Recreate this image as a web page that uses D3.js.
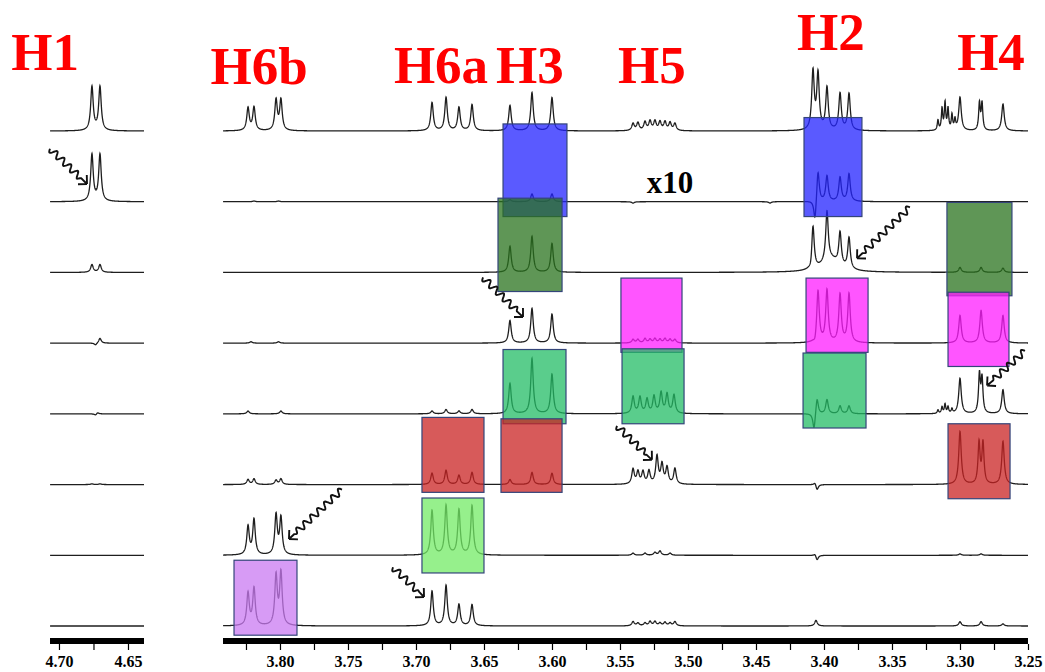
<!DOCTYPE html>
<html>
<head>
<meta charset="utf-8">
<script src="https://cdn.jsdelivr.net/npm/d3@7"></script>
<style>
  body { margin: 0; background: #fff; }
  svg { display: block; }
</style>
</head>
<body>
<svg id="chart" width="1045" height="672"></svg>
<script>
// chemical shift windows of the two panels (ppm)
const leftDomain = [4.7065, 4.6384];
const rightDomain = [3.8419, 3.25];
const traceIds = [0, 1, 2, 3, 4, 5, 6, 7];

// peaks per trace: [ppm, intensity in % of trace spacing, optional half width]
const trace0 = [
  [4.6761, 62], [4.6703, 62],
  [3.8235, 32], [3.8191, 33], [3.8029, 43], [3.7993, 43],
  [3.6882, 40], [3.6779, 47], [3.6684, 33], [3.6588, 37],
  [3.6309, 36], [3.6147, 54], [3.6000, 47],
  [3.5404, 10], [3.5368, 11], [3.5316, 12], [3.5279, 13], [3.5243, 13],
  [3.5206, 12], [3.5169, 12], [3.5132, 11], [3.5096, 10],
  [3.4081, 82], [3.4044, 78], [3.3978, 60], [3.3882, 52], [3.3816, 52],
  [3.3162, 14, 0.0006], [3.3132, 30, 0.0006], [3.3110, 38, 0.0006], [3.3088, 30, 0.0006],
  [3.3059, 21, 0.0006], [3.3037, 14, 0.0006],
  [3.3000, 47], [3.2857, 38, 0.0007], [3.2838, 38, 0.0007], [3.2684, 38]
];
const trace1 = [
  [4.6761, 66], [4.6703, 66],
  [3.8191, 1], [3.8011, 1],
  [3.6309, 3], [3.6147, 11], [3.6000, 11],
  [3.5404, -2], [3.4397, -2],
  [3.4066, -31], [3.4044, 46], [3.3978, 36], [3.3882, 34], [3.3816, 39]
];
const trace2 = [
  [4.6761, 11], [4.6703, 11],
  [3.6309, 37], [3.6147, 51], [3.6000, 41],
  [3.4096, -7], [3.4081, 62], [3.3978, 70], [3.3882, 46], [3.3816, 44], [3.3950, 18, 0.008],
  [3.3000, 7], [3.2845, 7], [3.2684, 6]
];
const trace3 = [
  [4.6735, -3], [4.6703, 7],
  [3.8213, 2], [3.8011, 2],
  [3.6309, 32], [3.6147, 49], [3.6000, 41],
  [3.5404, 5], [3.5368, 5], [3.5316, 6], [3.5279, 5], [3.5243, 6],
  [3.5206, 5], [3.5169, 6], [3.5132, 5], [3.5096, 5],
  [3.4066, -7], [3.4044, 74], [3.3978, 74], [3.3882, 68], [3.3816, 69],
  [3.3000, 39], [3.2845, 46], [3.2684, 39]
];
const trace4 = [
  [4.6735, -2], [4.6720, 2],
  [3.8235, 4], [3.7993, 4],
  [3.6882, 4], [3.6779, 6], [3.6684, 4], [3.6588, 6],
  [3.6309, 43], [3.6147, 78], [3.6000, 56],
  [3.5404, 24], [3.5353, 23], [3.5301, 20], [3.5250, 24],
  [3.5198, 29], [3.5154, 27], [3.5103, 26],
  [3.4073, -24], [3.4051, 24], [3.3978, 20], [3.3882, 11], [3.3816, 11],
  [3.3162, 5, 0.0006], [3.3132, 9, 0.0006], [3.3110, 13, 0.0006], [3.3088, 9, 0.0006], [3.3059, 6, 0.0006],
  [3.3000, 50], [3.2857, 54, 0.0008], [3.2838, 48, 0.0008], [3.2684, 34]
];
const trace5 = [
  [4.6761, 1], [4.6703, 1],
  [3.8235, 7], [3.8191, 8], [3.8029, 6], [3.7993, 8],
  [3.6882, 16], [3.6779, 20], [3.6684, 13], [3.6588, 17],
  [3.6309, 7], [3.6147, 17], [3.6000, 16],
  [3.5404, 21], [3.5368, 17], [3.5331, 17], [3.5287, 18],
  [3.5228, 39], [3.5191, 27], [3.5154, 23], [3.5096, 22],
  [3.4066, 4], [3.4051, -8],
  [3.3000, 75], [3.2860, 58, 0.0009], [3.2831, 58, 0.0009], [3.2684, 61]
];
const trace6 = [
  [3.8235, 40], [3.8191, 50], [3.8029, 56], [3.7993, 52],
  [3.6882, 63], [3.6779, 70], [3.6684, 64], [3.6588, 70],
  [3.5404, 3], [3.5316, 3], [3.5243, 4], [3.5206, 6], [3.5132, 3],
  [3.4066, 3], [3.4051, -7],
  [3.3000, 2], [3.2845, 2]
];
const trace7 = [
  [3.8235, 46], [3.8191, 53], [3.8029, 70], [3.7993, 74],
  [3.6882, 49], [3.6779, 57], [3.6684, 30], [3.6588, 30],
  [3.5404, 6], [3.5368, 4], [3.5316, 4], [3.5279, 6], [3.5243, 6],
  [3.5206, 4], [3.5169, 5], [3.5132, 4], [3.5096, 6],
  [3.4059, 8],
  [3.3000, 6], [3.2845, 6], [3.2684, 3]
];
const tracePeaks = [trace0, trace1, trace2, trace3, trace4, trace5, trace6, trace7];

// assignment labels
const labelNames = ['H1', 'H6b', 'H6a', 'H3', 'H5', 'H2', 'H4'];
const labelShifts = [4.7101, 3.8154, 3.6816, 3.6162, 3.5265, 3.3949, 3.2772];
const labelPanels = ['left', 'right', 'right', 'right', 'right', 'right', 'right'];

// highlighted regions: trace, ppm from, ppm to, top / bottom (% of spacing), colour
const boxTraces = [1, 1, 2, 2, 3, 3, 3, 4, 4, 4, 5, 5, 5, 6, 7];
const boxFrom = [3.6360, 3.4147, 3.6397, 3.3096, 3.5493, 3.4132, 3.3088, 3.6360, 3.5485, 3.4154, 3.6956, 3.6375, 3.3088, 3.6956, 3.8338];
const boxTo = [3.5890, 3.3721, 3.5926, 3.2618, 3.5044, 3.3676, 3.2640, 3.5897, 3.5029, 3.3691, 3.6500, 3.5926, 3.2632, 3.6500, 3.7875];
const boxTop = [110, 119, 105, 99, 92, 92, 72, 91, 92, 86, 95, 93, 86, 81, 93];
const boxBottom = [-21, -21, -27, -33, -13, -13, -33, -14, -14, -20, -11, -11, -20, -25, -13];
const boxColors = ['#2323ff', '#2323ff', '#29731d', '#29731d', '#ff1cff', '#ff1cff', '#ff1cff',
  '#23bc66', '#23bc66', '#23bc66', '#ca2323', '#ca2323', '#ca2323', '#73eb66', '#ca7af2'];

// wavy arrows: trace, tail (ppm, %), tip (ppm, %), panel
const arrowTraces = [1, 2, 3, 4, 5, 6, 7];
const arrowPanels = ['left', 'right', 'right', 'right', 'right', 'right', 'right'];
const arrowTail = [[4.7065, 75], [3.3368, 92], [3.6507, 93], [3.2522, 89], [3.5522, 83], [3.7544, 93], [3.7169, 83]];
const arrowTip = [[4.6797, 25], [3.3757, 20], [3.6213, 37], [3.2801, 40], [3.5265, 35], [3.7934, 23], [3.6941, 41]];

const leftTicks = [4.70, 4.675, 4.65];
const rightTicks = d3.range(3.25, 3.84, 0.025);

const HW = 0.0011; // default half width at half height (ppm)

const svg = d3.select('#chart');
const xL = d3.scaleLinear().domain(leftDomain).range([50, 144]);
const xR = d3.scaleLinear().domain(rightDomain).range([223, 1028]);
const yRow = d3.scalePoint().domain(traceIds).range([131, 626]);
const amp = d3.scaleLinear().domain([0, 100]).range([0, yRow.step()]);
const xs = { left: xL, right: xR };
const serif = '"Liberation Serif", "Times New Roman", serif';

function spectrum(peaks, domain, step) {
  const lo = Math.min(domain[0], domain[1]);
  const hi = Math.max(domain[0], domain[1]);
  const pts = [];
  for (let x = lo; x <= hi + 1e-9; x += step) {
    let v = 0;
    peaks.forEach(p => {
      const g = p[2] || HW;
      const d = x - p[0];
      v += p[1] * g * g / (d * d + g * g);
    });
    pts.push([x, v]);
  }
  return pts;
}

// spectra
const specG = svg.append('g');
traceIds.forEach(i => {
  ['left', 'right'].forEach(panel => {
    const sc = xs[panel];
    const pts = spectrum(tracePeaks[i], sc.domain(), 0.00012);
    const line = d3.line()
      .x(d => sc(d[0]))
      .y(d => yRow(i) - amp(d[1]));
    specG.append('path')
      .attr('d', line(pts))
      .attr('fill', 'none')
      .attr('stroke', '#1e1e1e')
      .attr('stroke-width', 1.3);
  });
});

// highlight boxes
svg.append('g').selectAll('rect')
  .data(boxTraces.map((t, k) => ({ t, k })))
  .enter()
  .append('rect')
  .attr('x', d => xR(boxFrom[d.k]))
  .attr('width', d => xR(boxTo[d.k]) - xR(boxFrom[d.k]))
  .attr('y', d => yRow(d.t) - amp(boxTop[d.k]))
  .attr('height', d => amp(boxTop[d.k]) - amp(boxBottom[d.k]))
  .attr('fill', d => boxColors[d.k])
  .attr('fill-opacity', 0.75)
  .attr('stroke', '#34457a')
  .attr('stroke-width', 1.2);

// wavy arrows
function wavyArrow(x0, y0, x1, y1) {
  const dx = x1 - x0, dy = y1 - y0;
  const L = Math.hypot(dx, dy);
  const ux = dx / L, uy = dy / L;
  const nx = -uy, ny = ux;
  const waveEnd = L - 7;
  const pts = [];
  for (let s = 0; s <= waveEnd; s += 0.5) {
    const taper = Math.min(1, (waveEnd - s) / 4);
    const a = 3.2 * Math.sin(2 * Math.PI * s / 9.5) * taper;
    pts.push([x0 + ux * s + nx * a, y0 + uy * s + ny * a]);
  }
  pts.push([x1, y1]);
  let d = d3.line()(pts);
  const hl = 9;
  [Math.PI / 4, -Math.PI / 4].forEach(r => {
    const bx = -ux * Math.cos(r) + uy * Math.sin(r);
    const by = -uy * Math.cos(r) - ux * Math.sin(r);
    d += 'M' + x1 + ',' + y1 + 'L' + (x1 + bx * hl) + ',' + (y1 + by * hl);
  });
  return d;
}

svg.append('g').selectAll('path')
  .data(arrowTraces.map((t, k) => ({ t, k })))
  .enter()
  .append('path')
  .attr('d', d => {
    const sc = xs[arrowPanels[d.k]];
    const y = yRow(d.t);
    return wavyArrow(sc(arrowTail[d.k][0]), y - amp(arrowTail[d.k][1]),
      sc(arrowTip[d.k][0]), y - amp(arrowTip[d.k][1]));
  })
  .attr('fill', 'none')
  .attr('stroke', '#111')
  .attr('stroke-width', 1.9);

// axes
const axisY = 644;
[['left', leftTicks], ['right', rightTicks]].forEach(([panel, ticks]) => {
  const sc = xs[panel];
  const g = svg.append('g').attr('transform', 'translate(0,' + axisY + ')');
  g.append('rect')
    .attr('x', sc.range()[0])
    .attr('y', -6)
    .attr('width', sc.range()[1] - sc.range()[0])
    .attr('height', 6)
    .attr('fill', '#000');
  g.call(d3.axisBottom(sc)
    .tickValues(ticks)
    .tickSize(6)
    .tickFormat(v => Math.abs(v * 20 - Math.round(v * 20)) < 1e-6 ? v.toFixed(2) : ''));
  g.select('.domain').remove();
  g.selectAll('.tick line').attr('stroke', '#000').attr('stroke-width', 1.2);
  g.selectAll('.tick text')
    .attr('y', 12)
    .attr('fill', '#000')
    .style('font-family', serif)
    .style('font-weight', 'bold')
    .style('font-size', '16px');
});

// assignment labels
const labelY = [70, 84, 83, 83, 83, 50, 70];
svg.append('g').selectAll('text')
  .data(labelNames)
  .enter()
  .append('text')
  .attr('x', (d, k) => xs[labelPanels[k]](labelShifts[k]))
  .attr('y', (d, k) => labelY[k])
  .attr('text-anchor', 'middle')
  .attr('fill', '#ff0000')
  .style('font-family', serif)
  .style('font-weight', 'bold')
  .style('font-size', '53px')
  .text(d => d);

svg.append('text')
  .attr('x', xR(3.5132))
  .attr('y', 193)
  .attr('text-anchor', 'middle')
  .attr('fill', '#000')
  .style('font-family', serif)
  .style('font-weight', 'bold')
  .style('font-size', '31px')
  .text('x10');
</script>
</body>
</html>
